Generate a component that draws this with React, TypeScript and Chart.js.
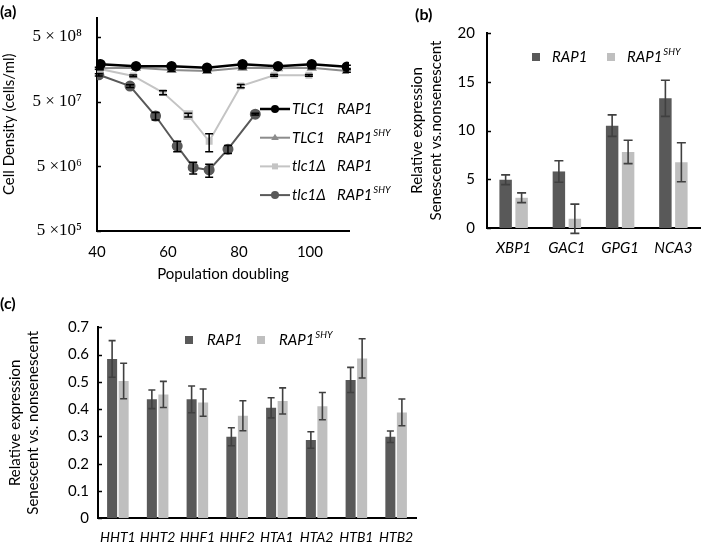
import React, { useEffect, useRef } from "react";
import { Chart, registerables } from "chart.js";

Chart.register(...registerables);

const SANS = "Lato, 'Open Sans', sans-serif";
const SERIF = "'Liberation Serif', 'DejaVu Serif', serif";

// ---------------- Panel (a): cell density vs population doubling ----------------
const doublingTicks = [40, 60, 80, 100];
const densityTicks = [5e5, 5e6, 5e7, 5e8];
const densityTickLabels = ["5 ×10⁵", "5 ×10⁶", "5 × 10⁷", "5 × 10⁸"];

const tlcRapX = [41, 51, 61, 71, 81, 91, 100.5, 110.4];
const tlcRapY = [1.89e8, 1.77e8, 1.77e8, 1.67e8, 1.89e8, 1.77e8, 1.89e8, 1.73e8];
const tlcRapErr = [9e6, 8e6, 8e6, 8e6, 9e6, 8e6, 9e6, 1e7];

const tlcShyX = [40.5, 51, 61, 71, 81, 91, 100.5, 110.4];
const tlcShyY = [1.64e8, 1.67e8, 1.54e8, 1.49e8, 1.67e8, 1.64e8, 1.67e8, 1.49e8];
const tlcShyErr = [6e6, 6e6, 6e6, 6e6, 6e6, 6e6, 6e6, 6e6];

const delRapX = [40.8, 50.2, 58.6, 65.7, 71.6, 80.5, 89.9, 99.7];
const delRapY = [1.6e8, 1.25e8, 6.9e7, 3.1e7, 1.22e7, 8.7e7, 1.28e8, 1.28e8];
const delRapErr = [5e6, 4e6, 5e6, 2e6, 3.8e6, 5e6, 4e6, 4e6];

const delShyX = [40.5, 49.3, 56.5, 62.6, 67.1, 71.6, 76.9, 84.6];
const delShyY = [1.3e8, 8.7e7, 3.0e7, 1.03e7, 4.8e6, 4.4e6, 9.2e6, 3.2e7];
const delShyErr = [5e6, 4e6, 4e6, 1.9e6, 1.0e6, 1.0e6, 1.3e6, 1e6];

const lineGene = ["TLC1", "TLC1", "tlc1Δ", "tlc1Δ"];
const lineAllele = ["RAP1", "RAP1", "RAP1", "RAP1"];
const lineAlleleSup = ["", "SHY", "", "SHY"];

// ---------------- Panel (b): senescence genes ----------------
const genesB = ["XBP1", "GAC1", "GPG1", "NCA3"];
const rap1B = [4.95, 5.8, 10.5, 13.3];
const rap1BErr = [0.5, 1.1, 1.1, 1.85];
const shyB = [3.1, 0.95, 7.8, 6.75];
const shyBErr = [0.5, 1.5, 1.2, 2.0];

// ---------------- Panel (c): histone genes ----------------
const histones = ["HHT1", "HHT2", "HHF1", "HHF2", "HTA1", "HTA2", "HTB1", "HTB2"];
const rap1C = [0.584, 0.436, 0.436, 0.299, 0.405, 0.287, 0.507, 0.299];
const rap1CErr = [0.067, 0.034, 0.049, 0.033, 0.037, 0.03, 0.046, 0.021];
const shyC = [0.503, 0.454, 0.424, 0.376, 0.43, 0.411, 0.586, 0.388];
const shyCErr = [0.065, 0.048, 0.05, 0.055, 0.048, 0.05, 0.072, 0.049];

const barNames = ["RAP1", "RAP1"];
const barSups = ["", "SHY"];

const DARK = "#595959";
const LIGHT = "#bfbfbf";

// ---------------- plugins ----------------
const errorBarPlugin = {
  id: "errorBars",
  afterDatasetsDraw(chart: any, _args: any, opts: any) {
    const ctx = chart.ctx;
    const ys = chart.scales.y;
    chart.data.datasets.forEach((ds: any, di: number) => {
      const errs = ds.errors;
      if (!errs) return;
      const meta = chart.getDatasetMeta(di);
      meta.data.forEach((el: any, i: number) => {
        const raw = ds.data[i];
        const v = typeof raw === "number" ? raw : raw.y;
        const e = errs[i];
        if (!e) return;
        const x = el.x;
        const yt = ys.getPixelForValue(v + e);
        const yb = ys.getPixelForValue(v - e);
        const cap = opts.cap;
        ctx.save();
        ctx.strokeStyle = opts.color;
        ctx.lineWidth = opts.width;
        ctx.beginPath();
        ctx.moveTo(x, yt);
        ctx.lineTo(x, yb);
        ctx.moveTo(x - cap, yt);
        ctx.lineTo(x + cap, yt);
        ctx.moveTo(x - cap, yb);
        ctx.lineTo(x + cap, yb);
        ctx.stroke();
        ctx.restore();
      });
    });
  },
};

const innerTicksPlugin = {
  id: "innerTicks",
  afterDraw(chart: any, _a: any, opts: any) {
    const ys = chart.scales.y;
    const ctx = chart.ctx;
    ctx.save();
    ctx.strokeStyle = "#000";
    ctx.lineWidth = 1.5;
    ys.ticks.forEach((t: any) => {
      const py = Math.round(ys.getPixelForValue(t.value)) + 0.5;
      ctx.beginPath();
      ctx.moveTo(ys.right, py);
      ctx.lineTo(ys.right + opts.len, py);
      ctx.stroke();
    });
    ctx.restore();
  },
};

function drawSupText(ctx: any, x: number, y: number, main: string, sup: string, size: number, supSize: number) {
  ctx.fillStyle = "#000";
  ctx.textAlign = "left";
  ctx.textBaseline = "middle";
  ctx.font = `italic ${size}px ${SANS}`;
  ctx.fillText(main, x, y);
  if (sup) {
    const w = ctx.measureText(main).width;
    ctx.font = `italic ${supSize}px ${SANS}`;
    ctx.fillText(sup, x + w + 1, y - size * 0.32);
  }
}

function drawMarker(ctx: any, style: string, x: number, y: number, r: number) {
  ctx.beginPath();
  if (style === "triangle") {
    ctx.moveTo(x, y - r);
    ctx.lineTo(x + r * 0.95, y + r * 0.6);
    ctx.lineTo(x - r * 0.95, y + r * 0.6);
    ctx.closePath();
  } else if (style === "rect") {
    ctx.rect(x - r * 0.75, y - r * 0.75, r * 1.5, r * 1.5);
  } else {
    ctx.arc(x, y, r, 0, Math.PI * 2);
  }
  ctx.fill();
}

const lineLegendPlugin = {
  id: "lineLegend",
  afterDraw(chart: any, _a: any, opts: any) {
    const ctx = chart.ctx;
    ctx.save();
    chart.data.datasets.forEach((ds: any, i: number) => {
      const y = opts.y + i * opts.dy;
      ctx.strokeStyle = ds.borderColor;
      ctx.lineWidth = ds.borderWidth;
      ctx.beginPath();
      ctx.moveTo(opts.x, y);
      ctx.lineTo(opts.x + opts.len, y);
      ctx.stroke();
      ctx.fillStyle = ds.pointBackgroundColor;
      drawMarker(ctx, ds.pointStyle, opts.x + opts.len / 2, y, 4);
      drawSupText(ctx, opts.x + opts.len + 2, y, lineGene[i], "", opts.size, opts.supSize);
      drawSupText(ctx, opts.x + opts.len + 47, y, lineAllele[i], lineAlleleSup[i], opts.size, opts.supSize);
    });
    ctx.restore();
  },
};

const barLegendPlugin = {
  id: "barLegend",
  afterDraw(chart: any, _a: any, opts: any) {
    const ctx = chart.ctx;
    ctx.save();
    chart.data.datasets.forEach((ds: any, i: number) => {
      const x = opts.xs[i];
      ctx.fillStyle = ds.backgroundColor;
      ctx.fillRect(x, opts.y - opts.box / 2, opts.box, opts.box);
      drawSupText(ctx, x + opts.box + opts.gap, opts.y, barNames[i], barSups[i], opts.size, opts.supSize);
    });
    ctx.restore();
  },
};

function pts(xs: number[], ys: number[]) {
  return xs.map((x, i) => ({ x, y: ys[i] }));
}

function useChart(ref: React.RefObject<HTMLCanvasElement>, build: () => any) {
  useEffect(() => {
    if (!ref.current) return;
    const ch = new Chart(ref.current, build());
    return () => ch.destroy();
  }, []);
}

const noGrid = { display: false, drawTicks: false };
const axisBorder = { display: true, color: "#000", width: 2 };

function PanelA() {
  const ref = useRef<HTMLCanvasElement>(null);
  useChart(ref, () => ({
    type: "scatter",
    data: {
      datasets: [
        { label: "TLC1 RAP1", data: pts(tlcRapX, tlcRapY), errors: tlcRapErr, showLine: true, borderColor: "#000", borderWidth: 2.5, pointBackgroundColor: "#000", pointBorderColor: "#000", pointStyle: "circle", pointRadius: 4 },
        { label: "TLC1 RAP1SHY", data: pts(tlcShyX, tlcShyY), errors: tlcShyErr, showLine: true, borderColor: "#8c8c8c", borderWidth: 2, pointBackgroundColor: "#8c8c8c", pointBorderColor: "#8c8c8c", pointStyle: "triangle", pointRadius: 4 },
        { label: "tlc1Δ RAP1", data: pts(delRapX, delRapY), errors: delRapErr, showLine: true, borderColor: "#c4c4c4", borderWidth: 2, pointBackgroundColor: "#c4c4c4", pointBorderColor: "#c4c4c4", pointStyle: "rect", pointRadius: [3.5, 3.5, 3.5, 5.5, 3.5, 3.5, 3.5, 3.5] },
        { label: "tlc1Δ RAP1SHY", data: pts(delShyX, delShyY), errors: delShyErr, showLine: true, borderColor: DARK, borderWidth: 2, pointBackgroundColor: DARK, pointBorderColor: DARK, pointStyle: "circle", pointRadius: 4.5 },
      ],
    },
    options: {
      responsive: false,
      animation: false,
      layout: { padding: { top: 17.5, right: 46, left: 0, bottom: 0 } },
      plugins: {
        legend: { display: false },
        tooltip: { enabled: false },
        errorBars: { color: "#000", width: 1.5, cap: 4 },
        innerTicks: { len: 4 },
        lineLegend: { x: 260, y: 109, dy: 28.7, len: 30, size: 15, supSize: 9.5 },
      },
      scales: {
        x: {
          type: "linear",
          min: 40,
          max: 111,
          afterBuildTicks: (s: any) => { s.ticks = doublingTicks.map((v) => ({ value: v })); },
          grid: noGrid,
          border: axisBorder,
          ticks: { font: { family: SANS, size: 15 }, color: "#000", padding: 12, maxRotation: 0 },
          title: { display: true, text: "Population doubling", font: { family: SANS, size: 15 }, color: "#000", padding: { top: 0, bottom: 7 } },
          afterFit: (s: any) => { s.height = 59; s.paddingLeft = 0; s.paddingRight = 0; },
        },
        y: {
          type: "logarithmic",
          min: 5e5,
          max: 1e9,
          afterBuildTicks: (s: any) => { s.ticks = densityTicks.map((v) => ({ value: v })); },
          grid: noGrid,
          border: axisBorder,
          ticks: { font: { family: SERIF, size: 17 }, color: "#000", padding: 15, callback: (v: number) => densityTickLabels[densityTicks.indexOf(v)] },
          title: { display: true, text: "Cell Density (cells/ml)", font: { family: SANS, size: 15 }, color: "#000", padding: { top: 0.5, bottom: 0 } },
          afterFit: (s: any) => { s.width = 97; s.paddingTop = 0; s.paddingBottom = 0; },
        },
      },
    },
    plugins: [errorBarPlugin, innerTicksPlugin, lineLegendPlugin],
  }));
  return <canvas ref={ref} width={395} height={290} style={{ position: "absolute", left: 0, top: 0, width: 395, height: 290 }} />;
}

function PanelB() {
  const ref = useRef<HTMLCanvasElement>(null);
  useChart(ref, () => ({
    type: "bar",
    data: {
      labels: genesB,
      datasets: [
        { label: "RAP1", data: rap1B, errors: rap1BErr, backgroundColor: DARK, categoryPercentage: 0.6, barPercentage: 0.78 },
        { label: "RAP1 SHY", data: shyB, errors: shyBErr, backgroundColor: LIGHT, categoryPercentage: 0.6, barPercentage: 0.78 },
      ],
    },
    options: {
      responsive: false,
      animation: false,
      layout: { padding: { top: 33, right: 9, left: 0, bottom: 0 } },
      plugins: {
        legend: { display: false },
        tooltip: { enabled: false },
        errorBars: { color: "#404040", width: 1.6, cap: 4.5 },
        innerTicks: { len: 4 },
        barLegend: { xs: [132, 207], y: 57, box: 8, gap: 12, size: 15, supSize: 9.5 },
      },
      scales: {
        x: {
          grid: noGrid,
          border: axisBorder,
          ticks: { font: { family: SANS, size: 15, style: "italic" }, color: "#000", padding: 11, maxRotation: 0, autoSkip: false },
          afterFit: (s: any) => { s.height = 62; s.paddingLeft = 0; s.paddingRight = 0; },
        },
        y: {
          min: 0,
          max: 20,
          grid: noGrid,
          border: axisBorder,
          ticks: { stepSize: 5, font: { family: SANS, size: 15 }, color: "#000", padding: 12 },
          title: { display: true, text: ["Relative expression", "Senescent vs.nonsenescent"], font: { family: SANS, size: 15, lineHeight: 1.27 }, color: "#000", padding: { top: 7.5, bottom: 0 } },
          afterFit: (s: any) => { s.width = 87; s.paddingTop = 0; s.paddingBottom = 0; },
        },
      },
    },
    plugins: [errorBarPlugin, innerTicksPlugin, barLegendPlugin],
  }));
  return <canvas ref={ref} width={309} height={290} style={{ position: "absolute", left: 400, top: 0, width: 309, height: 290 }} />;
}

function PanelC() {
  const ref = useRef<HTMLCanvasElement>(null);
  useChart(ref, () => ({
    type: "bar",
    data: {
      labels: histones,
      datasets: [
        { label: "RAP1", data: rap1C, errors: rap1CErr, backgroundColor: DARK, categoryPercentage: 0.58, barPercentage: 0.87 },
        { label: "RAP1 SHY", data: shyC, errors: shyCErr, backgroundColor: LIGHT, categoryPercentage: 0.58, barPercentage: 0.87 },
      ],
    },
    options: {
      responsive: false,
      animation: false,
      layout: { padding: { top: 27.3, right: 14, left: 0, bottom: 0 } },
      plugins: {
        legend: { display: false },
        tooltip: { enabled: false },
        errorBars: { color: "#404040", width: 1.6, cap: 3.5 },
        innerTicks: { len: 4 },
        barLegend: { xs: [185, 257], y: 40, box: 8, gap: 14, size: 15, supSize: 9.5 },
      },
      scales: {
        x: {
          grid: noGrid,
          border: axisBorder,
          ticks: { font: { family: SANS, size: 14, style: "italic" }, color: "#000", padding: 11, maxRotation: 0, autoSkip: false },
          afterFit: (s: any) => { s.height = 24.7; s.paddingLeft = 0; s.paddingRight = 0; },
        },
        y: {
          min: 0,
          max: 0.7,
          grid: noGrid,
          border: axisBorder,
          ticks: { stepSize: 0.1, font: { family: SANS, size: 15 }, color: "#000", padding: 9 },
          title: { display: true, text: ["Relative expression", "Senescent vs. nonsenescent"], font: { family: SANS, size: 15, lineHeight: 1.22 }, color: "#000", padding: { top: 6, bottom: 0 } },
          afterFit: (s: any) => { s.width = 98; s.paddingTop = 0; s.paddingBottom = 0; },
        },
      },
    },
    plugins: [errorBarPlugin, innerTicksPlugin, barLegendPlugin],
  }));
  return <canvas ref={ref} width={430} height={243} style={{ position: "absolute", left: 0, top: 300, width: 430, height: 243 }} />;
}

const panelLabel: React.CSSProperties = { position: "absolute", fontFamily: SANS, fontWeight: 700, fontSize: 16, lineHeight: "16px", color: "#000" };

export default function App() {
  return (
    <div style={{ position: "fixed", left: 0, top: 0, width: 709, height: 543, background: "#fff", overflow: "hidden" }}>
      <PanelA />
      <PanelB />
      <PanelC />
      <div style={{ ...panelLabel, left: 0, top: 3 }}>(a)</div>
      <div style={{ ...panelLabel, left: 415, top: 6 }}>(b)</div>
      <div style={{ ...panelLabel, left: 0, top: 295 }}>(c)</div>
    </div>
  );
}
